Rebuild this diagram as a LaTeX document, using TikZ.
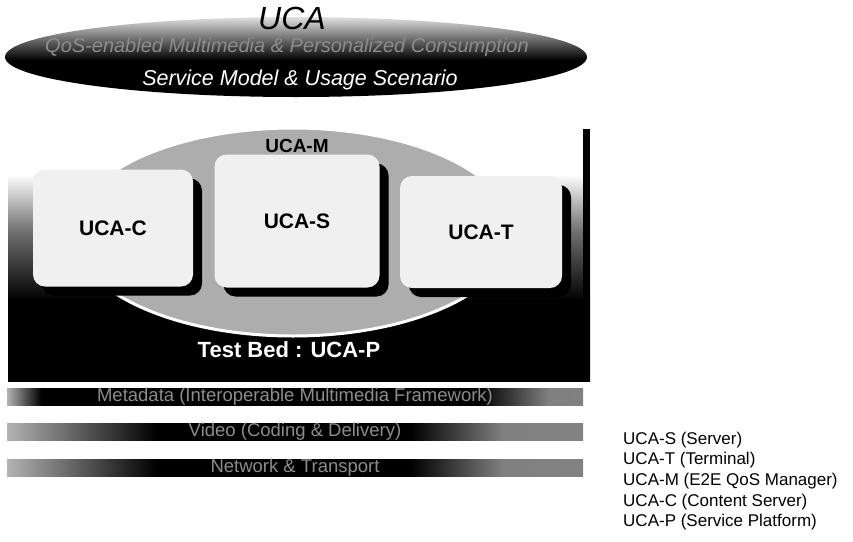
\documentclass[tikz,border=0pt]{standalone}
\usepackage{fontspec}
\setmainfont{Liberation Sans}
\usetikzlibrary{shapes.geometric,shadows}
\pgfdeclareverticalshading{swoosh}{100bp}{color(0bp)=(black); color(25bp)=(black); color(48bp)=(black); color(62bp)=(black!55); color(75bp)=(black!12); color(100bp)=(black!12)}
\pgfdeclareverticalshading{panelshade}{100bp}{color(0bp)=(black); color(41bp)=(black); color(55bp)=(black!55); color(66bp)=(white); color(100bp)=(white)}
\pgfdeclarehorizontalshading{metashade}{100bp}{color(0bp)=(black!30); color(25bp)=(black!30); color(28bp)=(black); color(66bp)=(black); color(72bp)=(black!50); color(100bp)=(black!45)}
\pgfdeclarehorizontalshading{lowshade}{100bp}{color(0bp)=(black!30); color(25bp)=(black!30); color(38bp)=(black); color(60bp)=(black); color(68bp)=(black!50); color(100bp)=(black!45)}
\tikzset{
  ucabox/.style = {fill=black!6, rounded corners=12pt, inner sep=0pt,
                   font=\fontsize{21}{24}\selectfont\bfseries,
                   drop shadow={shadow xshift=9pt, shadow yshift=-9pt, fill=black, opacity=1}},
  layer/.style  = {shade, shading=lowshade, minimum width=576pt, minimum height=16pt,
                   inner sep=0pt, font=\fontsize{18.5}{20}\selectfont, text=black!45},
  legend/.style = {font=\fontsize{17}{20}\selectfont, inner sep=0pt, anchor=base west},
}
\begin{document}
\begin{tikzpicture}[x=1pt, y=-1pt]
  \useasboundingbox (0,0) rectangle (853,541);
  % test bed panel
  \shade[shading=panelshade] (8,129) rectangle (590,381);
  \fill[black] (583,129) rectangle (590,381);
  \node[ellipse, fill=black!32, draw=white, line width=3pt, minimum width=440pt, minimum height=208pt] (ucam) at (293,232) {};
  \node[font=\fontsize{19}{22}\selectfont\bfseries, inner sep=0pt] (ucamlab) at (297,146) {UCA-M};
  \node[ucabox, minimum width=160pt, minimum height=117pt] (ucac) at (113,228) {UCA-C};
  \node[ucabox, minimum width=165pt, minimum height=133pt] (ucas) at (297,221) {UCA-S};
  \node[ucabox, minimum width=162pt, minimum height=112pt] (ucat) at (481,232) {UCA-T};
  \node[text=white, font=\fontsize{22}{26}\selectfont\bfseries, inner sep=0pt] (ucap) at (289,350) {Test Bed : UCA-P};
  % service model swoosh
  \node[ellipse, shade, shading=swoosh, minimum width=582pt, minimum height=80pt, inner sep=0pt] (scen) at (296,57) {};
  \node[font=\fontsize{32}{36}\selectfont\itshape, inner sep=0pt] (uca) at (292,18) {UCA};
  \node[text=black!45, font=\fontsize{20}{24}\selectfont\itshape, inner sep=0pt] (qos) at (287,47) {QoS-enabled Multimedia \& Personalized Consumption};
  \node[text=white, font=\fontsize{21.5}{24}\selectfont\itshape, inner sep=0pt] (usage) at (300,80) {Service Model \& Usage Scenario};
  % layers
  \node[layer, shading=metashade] (meta) at (295,397) {Metadata (Interoperable Multimedia Framework)};
  \node[layer] (video) at (295,432) {Video (Coding \& Delivery)};
  \node[layer] (net) at (295,468) {Network \& Transport};
  % legend
  \foreach \t [count=\i] in {UCA-S (Server), UCA-T (Terminal), UCA-M (E2E QoS Manager),
                             UCA-C (Content Server), UCA-P (Service Platform)}
    \node[legend] (leg\i) at (623,{444+20.7*(\i-1)}) {\t};
\end{tikzpicture}
\end{document}
